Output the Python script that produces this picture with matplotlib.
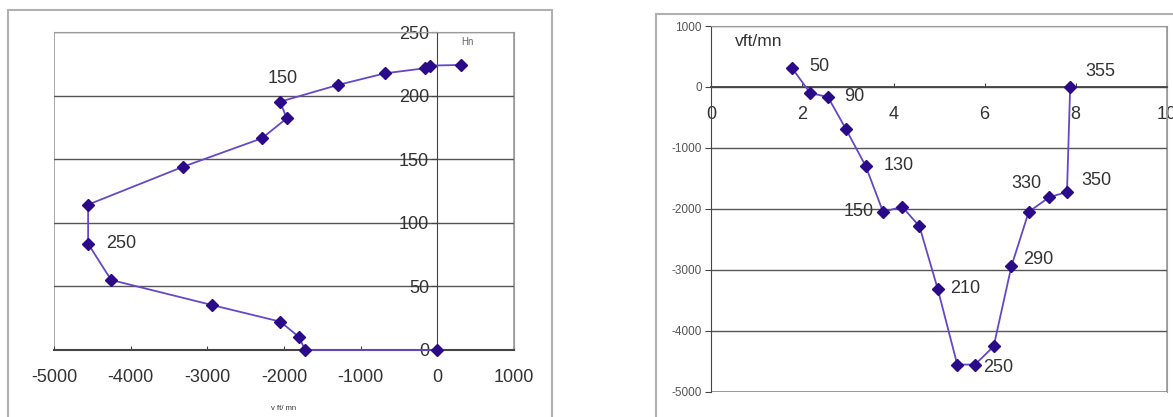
import matplotlib
matplotlib.use("Agg")
import matplotlib.pyplot as plt
from matplotlib.patches import Rectangle

# shared profile: vertical speed (ft/mn) at each sample
vspeed = [311, -100, -165, -685, -1300, -2050, -1965, -2288, -3312,
          -4555, -4555, -4255, -2940, -2048, -1810, -1722, 0]
# left chart: height (Hn) of each sample
height = [224.3, 223.8, 221.7, 217.7, 208.5, 195.4, 182.3, 166.6, 144.3,
          114.4, 83.6, 55.1, 35.4, 22.3, 10.5, 0, 0]
# right chart: horizontal position of each sample
xpos = [1.77, 2.17, 2.56, 2.95, 3.39, 3.77, 4.19, 4.57, 4.97,
        5.40, 5.79, 6.20, 6.59, 6.97, 7.42, 7.81, 7.88]

left_xticks = [-5000, -4000, -3000, -2000, -1000, 0, 1000]
left_yticks = [0, 50, 100, 150, 200, 250]
right_xticks = [0, 2, 4, 6, 8, 10]
right_yticks = [1000, 0, -1000, -2000, -3000, -4000, -5000]

# time labels on the right chart (sample index -> label)
right_lbl_idx = [0, 2, 4, 5, 8, 10, 12, 14, 15, 16]
right_lbl_txt = ["50", "90", "130", "150", "210", "250", "290", "330", "350", "355"]
# label offsets in pixels (dx, dy, ha)
right_lbl_off = [(17, 1, "left"), (16, 1, "left"), (18, 1, "left"), (-9, 0, "right"),
                 (12, 0, "left"), (8, -3, "left"), (12, 7, "left"), (-8, 14, "right"),
                 (14, 11, "left"), (15, 15, "left")]

# labels on the left chart
left_lbl_txt = ["150", "250"]
left_lbl_pos = [(-2021, 214), (-4120, 84)]

LINE = "#6448c8"
MARK = "#2a0a88"
GRID = "#555555"
FRAME = "#9a9a9a"
TXT = "#333333"

plt.rcParams["font.family"] = ["Liberation Sans", "DejaVu Sans"]
plt.rcParams["axes.unicode_minus"] = False

fig = plt.figure(figsize=(11.73, 4.17), dpi=100)
W, H = 1173, 417

# outer chart-area borders
fig.patches.append(Rectangle((8 / W, -0.1), 544 / W, 1.1 - 10 / H, transform=fig.transFigure,
                             fill=False, ec="#b0b0b0", lw=1.5))
fig.patches.append(Rectangle((656 / W, -0.1), 0.5, 1.1 - 14 / H, transform=fig.transFigure,
                             fill=False, ec="#b0b0b0", lw=1.5))

# ---- left chart: height vs speed
ax1 = fig.add_axes([54 / W, (H - 350) / H, 460 / W, 317.7 / H])
ax1.plot(vspeed, height, color=LINE, lw=1.3, marker="D", ms=6.5,
         mfc=MARK, mec=MARK, clip_on=False, zorder=5)
ax1.set_xlim(-5000, 1000)
ax1.set_ylim(0, 250)
ax1.set_xticks(left_xticks)
ax1.set_yticks(left_yticks)
for s in ["top", "right"]:
    ax1.spines[s].set_color(FRAME)
ax1.spines["left"].set_position(("data", 0))
ax1.spines["left"].set_color("#444444")
ax1.spines["bottom"].set_color("#444444")
ax1.spines["bottom"].set_linewidth(1.5)
ax1.add_patch(Rectangle((0, 0), 1, 1, transform=ax1.transAxes, fill=False,
                        ec=FRAME, lw=1.2, zorder=0))
ax1.yaxis.grid(True, color=GRID, lw=1)
ax1.set_axisbelow(True)
ax1.tick_params(axis="x", direction="in", length=3, pad=14, labelsize=13, colors="#444444",
                labelcolor=TXT)
ax1.tick_params(axis="y", direction="out", length=4, pad=2, labelsize=13, colors="#444444",
                labelcolor=TXT)
for t in ax1.get_yticklabels():
    t.set_zorder(6)
ax1.set_xlabel("v ft/ mn", fontsize=5.5, color=TXT, labelpad=13)
for (x, y), t in zip(left_lbl_pos, left_lbl_txt):
    ax1.text(x, y, t, fontsize=13, color=TXT, ha="center", va="center")
ax1.text(387, 242, "Hn", fontsize=7, color="#666666", ha="center", va="center")

# ---- right chart: speed along the track
ax2 = fig.add_axes([711.4 / W, (H - 391.7) / H, 455.3 / W, 365.7 / H])
ax2.plot(xpos, vspeed, color=LINE, lw=1.3, marker="D", ms=6.5,
         mfc=MARK, mec=MARK, clip_on=False, zorder=5)
ax2.set_xlim(0, 10)
ax2.set_ylim(-5000, 1000)
ax2.set_xticks(right_xticks)
ax2.set_yticks(right_yticks)
ax2.spines["bottom"].set_position(("data", 0))
ax2.spines["bottom"].set_color("#444444")
ax2.spines["bottom"].set_linewidth(1.3)
ax2.spines["left"].set_color("#444444")
for s in ["top", "right"]:
    ax2.spines[s].set_color(FRAME)
ax2.add_patch(Rectangle((0, 0), 1, 1, transform=ax2.transAxes, fill=False,
                        ec=FRAME, lw=1.2, zorder=0))
ax2.yaxis.grid(True, color=GRID, lw=1)
ax2.set_axisbelow(True)
ax2.tick_params(axis="x", direction="in", length=3, pad=14, labelsize=13, colors="#444444",
                labelcolor=TXT)
ax2.tick_params(axis="y", direction="out", length=4, pad=3, labelsize=8.5, colors="#444444",
                labelcolor="#555555")
for i, t, (dx, dy, ha) in zip(right_lbl_idx, right_lbl_txt, right_lbl_off):
    ax2.annotate(t, (xpos[i], vspeed[i]), xytext=(dx, dy), textcoords="offset pixels",
                 fontsize=13, color=TXT, ha=ha, va="center")
ax2.text(0.52, 740, "vft/mn", fontsize=12.5, color=TXT, ha="left", va="center")

fig.savefig("out.png", dpi=100)
